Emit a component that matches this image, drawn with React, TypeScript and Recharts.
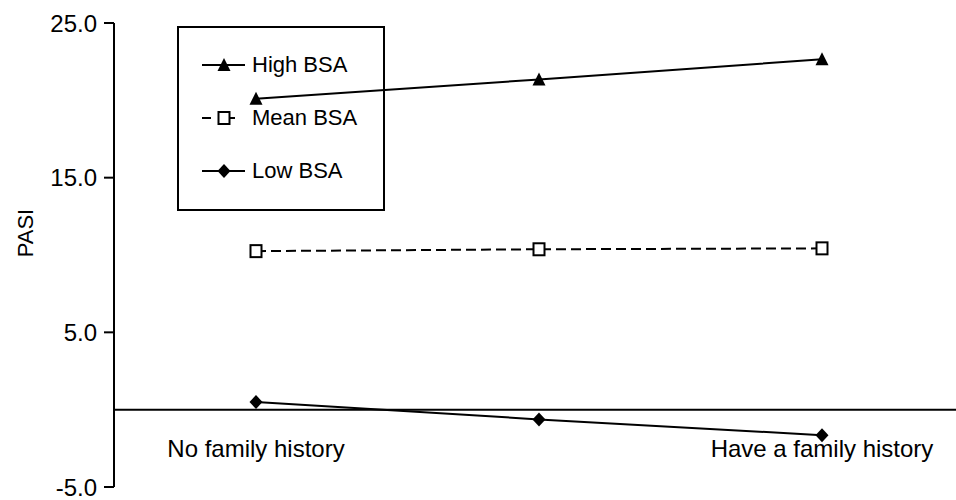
import React from 'react';
import { LineChart, Line, XAxis, YAxis, ReferenceLine, Legend } from 'recharts';

const CATEGORIES = ['No family history', '', 'Have a family history'];
const HIGH_BSA = [20.1, 21.35, 22.65];
const MEAN_BSA = [10.25, 10.37, 10.43];
const LOW_BSA = [0.5, -0.63, -1.65];
const Y_TICKS = [-5, 5, 15, 25];

const SERIES = [
  { key: 'high', name: 'High BSA', marker: 'triangle', dashed: false },
  { key: 'mean', name: 'Mean BSA', marker: 'square', dashed: true },
  { key: 'low', name: 'Low BSA', marker: 'diamond', dashed: false },
];

const data = CATEGORIES.map((group, i) => ({
  group,
  high: HIGH_BSA[i],
  mean: MEAN_BSA[i],
  low: LOW_BSA[i],
}));

const FONT = '"Liberation Sans", Arial, sans-serif';

const Marker = ({ type, cx, cy }: { type: string; cx: number; cy: number }) => {
  if (type === 'triangle') {
    return <polygon points={`${cx},${cy - 7} ${cx - 6.5},${cy + 6} ${cx + 6.5},${cy + 6}`} fill="#000" />;
  }
  if (type === 'square') {
    return <rect x={cx - 5.5} y={cy - 6} width={11} height={12} fill="#fff" stroke="#000" strokeWidth={2} />;
  }
  return <polygon points={`${cx},${cy - 7} ${cx + 6.5},${cy} ${cx},${cy + 7} ${cx - 6.5},${cy}`} fill="#000" />;
};

const makeDot = (type: string) => (props: any) => {
  const { cx, cy, index } = props;
  if (cx == null || cy == null) return <g key={index} />;
  return <Marker key={index} type={type} cx={cx} cy={cy} />;
};

// labels sit between the zero line and the bottom of the axis
const XTick = (props: any) => {
  const { x, y, payload } = props;
  if (!payload || !payload.value) return <g />;
  return (
    <text x={x} y={y - 30} textAnchor="middle" fontSize={24} fontFamily={FONT} fill="#000">
      {payload.value}
    </text>
  );
};

const LegendBox = () => (
  <div
    style={{
      boxSizing: 'border-box',
      width: 208,
      height: 185,
      border: '2px solid #000',
      paddingTop: 10,
      paddingLeft: 23,
      fontFamily: FONT,
      fontSize: 22,
      color: '#000',
    }}
  >
    {SERIES.map((s) => (
      <div key={s.key} style={{ height: 53, display: 'flex', alignItems: 'center' }}>
        <svg width={50} height={20} style={{ flex: 'none' }}>
          {s.dashed ? (
            <>
              <line x1={0} y1={10} x2={9} y2={10} stroke="#000" strokeWidth={2} />
              <line x1={16} y1={10} x2={33} y2={10} stroke="#000" strokeWidth={2} />
            </>
          ) : (
            <line x1={0} y1={10} x2={43} y2={10} stroke="#000" strokeWidth={2} />
          )}
          <Marker type={s.marker} cx={22} cy={10} />
        </svg>
        <span>{s.name}</span>
      </div>
    ))}
  </div>
);

const App: React.FC = () => {
  return (
    <div style={{ position: 'absolute', left: 0, top: 0, width: 956, height: 500, background: '#fff' }}>
      <LineChart width={956} height={500} data={data} margin={{ top: 23, right: 0, bottom: 0, left: 0 }}>
        <XAxis
          dataKey="group"
          height={13}
          axisLine={false}
          tickLine={false}
          tickSize={0}
          tickMargin={0}
          padding={{ left: 142, right: 134 }}
          tick={<XTick />}
          interval={0}
        />
        <YAxis
          width={114}
          domain={[-5, 25]}
          ticks={Y_TICKS}
          interval={0}
          tickFormatter={(v: number) => v.toFixed(1)}
          axisLine={{ stroke: '#000', strokeWidth: 2 }}
          tickLine={{ stroke: '#000', strokeWidth: 2 }}
          tickSize={10}
          tickMargin={7}
          tick={{ fill: '#000', fontSize: 24, fontFamily: FONT }}
          label={{
            content: () => (
              <text
                x={25}
                y={233}
                transform="rotate(-90 25 233)"
                textAnchor="middle"
                dominantBaseline="central"
                fontSize={22}
                fontFamily={FONT}
                fill="#000"
              >
                PASI
              </text>
            ),
          }}
        />
        <ReferenceLine y={0} stroke="#000" strokeWidth={2} />
        {SERIES.map((s) => (
          <Line
            key={s.key}
            dataKey={s.key}
            name={s.name}
            stroke="#000"
            strokeWidth={2}
            strokeDasharray={s.dashed ? '10 5' : undefined}
            dot={makeDot(s.marker)}
            activeDot={false}
            isAnimationActive={false}
          />
        ))}
        <Legend
          layout="vertical"
          align="center"
          verticalAlign="middle"
          content={() => <LegendBox />}
          wrapperStyle={{ position: 'absolute', left: 177, top: 26, width: 208, height: 185 }}
        />
      </LineChart>
    </div>
  );
};

export default App;
